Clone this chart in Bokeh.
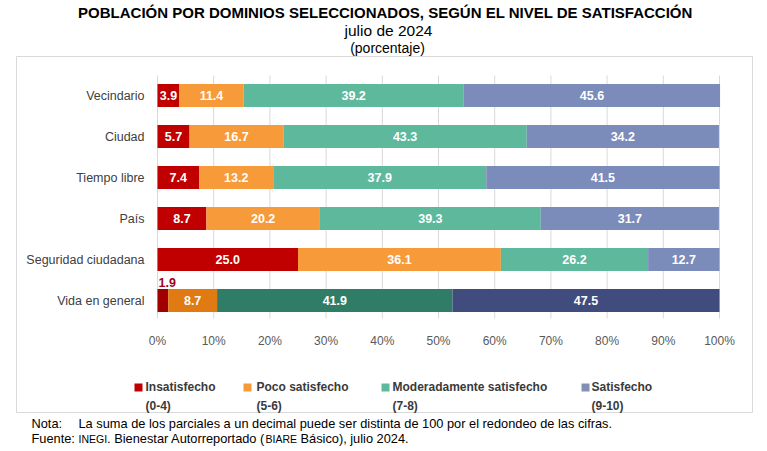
from bokeh.plotting import figure
from bokeh.models import ColumnDataSource, Range1d
from bokeh.embed import file_html
from bokeh.resources import INLINE
from bokeh.core.properties import value

# ---------------- data ----------------
categories = ["Vecindario", "Ciudad", "Tiempo libre", "País", "Seguridad ciudadana", "Vida en general"]
insatisfecho = [3.9, 5.7, 7.4, 8.7, 25.0, 1.9]
poco_satisfecho = [11.4, 16.7, 13.2, 20.2, 36.1, 8.7]
moderadamente = [39.2, 43.3, 37.9, 39.3, 26.2, 41.9]
satisfecho = [45.6, 34.2, 41.5, 31.7, 12.7, 47.5]
series_names = ["Insatisfecho", "Poco satisfecho", "Moderadamente satisfecho", "Satisfecho"]
series_ranges = ["(0-4)", "(5-6)", "(7-8)", "(9-10)"]
x_ticks = [0, 10, 20, 30, 40, 50, 60, 70, 80, 90, 100]
x_tick_labels = ["0%", "10%", "20%", "30%", "40%", "50%", "60%", "70%", "80%", "90%", "100%"]

# ---------------- style ----------------
colors = ["#C00000", "#F79A3A", "#5DB89C", "#7B8BBA"]
colors_dark = ["#A00000", "#E07A12", "#2F7D66", "#404C7E"]
legend_colors = ["#C00000", "#F79A3A", "#5DB89C", "#8190B3"]
FONT = "Liberation Sans, Arial, sans-serif"

# pixel <-> data helpers (layout only)
PX0, PX100 = 157.0, 719.0
KX = (PX100 - PX0) / 100.0
ROW0, ROWH = 95.0, 41.0
def xd(px):
    return (px - PX0) / KX
def yd(py):
    return (py - ROW0) / ROWH

W, H = 767, 451
GRID_TOP, GRID_BOT = 75, 318

p = figure(width=W, height=H, output_backend="svg", toolbar_location=None,
           x_range=Range1d(xd(0), xd(W)), y_range=Range1d(yd(H), yd(0)),
           x_axis_location=None, y_axis_location=None, title=None,
           min_border=0)
p.outline_line_color = None
p.background_fill_color = "white"
p.border_fill_color = "white"
p.grid.visible = False

n = len(categories)

# outer frame box
p.quad(left=[xd(16)], right=[xd(752)], top=[yd(56)], bottom=[yd(412)],
       fill_color=None, line_color="#D9D9D9", line_width=1)

# vertical grid lines at the x ticks
p.segment(x0=x_ticks, x1=x_ticks, y0=[yd(GRID_TOP)] * len(x_ticks),
          y1=[yd(GRID_BOT)] * len(x_ticks), line_color="#D9D9D9", line_width=1)

# bars
series = [insatisfecho, poco_satisfecho, moderadamente, satisfecho]
seg = dict(y=[], left=[], right=[], color=[])
lab = dict(x=[], y=[], text=[])
for i in range(n):
    acc = 0.0
    pal = colors_dark if categories[i] == "Vida en general" else colors
    for j, s in enumerate(series):
        v = s[i]
        seg["y"].append(i)
        seg["left"].append(acc)
        seg["right"].append(acc + v)
        seg["color"].append(pal[j])
        if v >= 3:
            lab["x"].append(acc + v / 2)
            lab["y"].append(i)
            lab["text"].append(f"{v:.1f}")
        acc += v

p.hbar(y="y", left="left", right="right", height=0.56, color="color",
       line_color=None, source=ColumnDataSource(seg))
p.text(x="x", y="y", text="text", source=ColumnDataSource(lab),
       text_color="white", text_font=value(FONT), text_font_style="bold",
       text_font_size="12.5px", text_align="center", text_baseline="middle")

# small value above the tiny segment
p.text(x=[0.0], y=[n - 1], text=[f"{insatisfecho[n-1]:.1f}"],
       text_color="#A0001E", text_font=value(FONT), text_font_style="bold",
       text_font_size="12.5px", text_align="left", text_baseline="middle",
       x_offset=1, y_offset=-18)

# category labels (y axis)
p.text(x=[0.0] * n, y=list(range(n)), text=categories, x_offset=-13,
       text_color="#404040", text_font=value(FONT), text_font_size="12.5px",
       text_align="right", text_baseline="middle")

# x tick labels
p.text(x=x_ticks, y=[yd(GRID_BOT)] * len(x_ticks), text=x_tick_labels, y_offset=22,
       text_color="#595959", text_font=value(FONT), text_font_size="12px",
       text_align="center", text_baseline="middle")

def label(px, py, text, size, style="normal", color="#000000", align="left"):
    p.text(x=[xd(px)], y=[yd(py)], text=[text], text_font=value(FONT),
           text_font_size=size, text_font_style=style, text_color=color,
           text_align=align, text_baseline="middle")

# titles
label(385, 12, "POBLACIÓN POR DOMINIOS SELECCIONADOS, SEGÚN EL NIVEL DE SATISFACCIÓN", "15px",
      style="bold", align="center")
label(388, 30, "julio de 2024", "15.5px", align="center")
label(387, 47, "(porcentaje)", "14px", align="center")

# legend
sq_x = [138, 247, 385, 585]
tx_x = [145, 256, 392, 591]
p.scatter(x=[xd(v) for v in sq_x], y=[yd(387)] * 4, marker="square", size=8,
          color=legend_colors, line_color=None)
p.text(x=[xd(v) for v in tx_x], y=[yd(386)] * 4, text=series_names,
       text_font=value(FONT), text_font_size="12px", text_font_style="bold",
       text_color="#3A3A3A", text_align="left", text_baseline="middle")
p.text(x=[xd(v) for v in tx_x], y=[yd(405)] * 4, text=series_ranges,
       text_font=value(FONT), text_font_size="12px", text_font_style="bold",
       text_color="#3A3A3A", text_align="left", text_baseline="middle")

# notes
label(31, 423, "Nota:", "12.8px")
label(78, 423, "La suma de los parciales a un decimal puede ser distinta de 100 por el redondeo de las cifras.",
      "12.8px")
label(31, 438, "Fuente:", "12.8px")
label(78, 438.5, "INEGI", "10.5px")
label(106.6, 438, ". Bienestar Autorreportado (", "12.8px")
label(265, 438.5, "BIARE", "10.5px")
label(300, 438, "Básico), julio 2024.", "12.8px")

open("out.html", "w").write(file_html(p, INLINE))
